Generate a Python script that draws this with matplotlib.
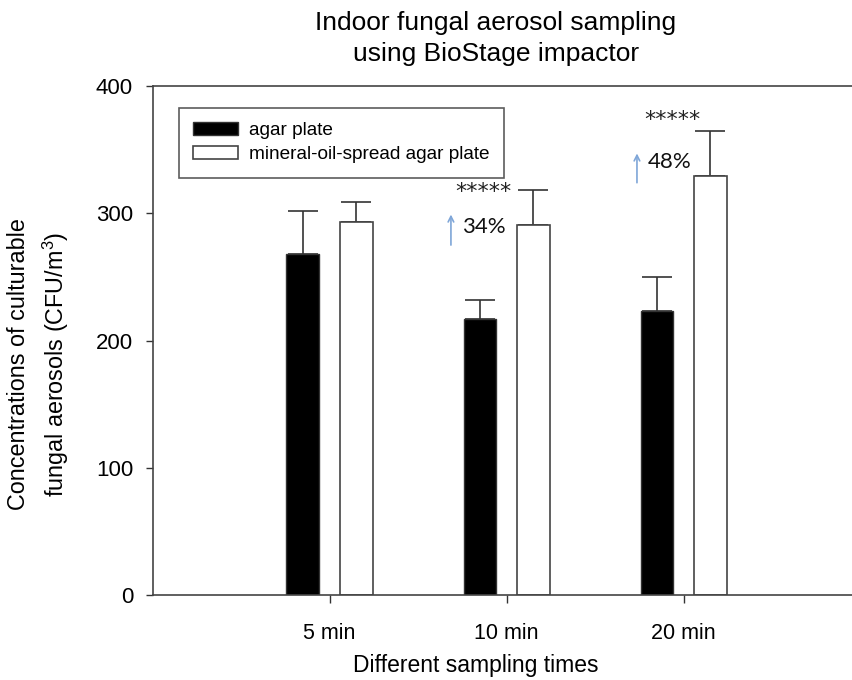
import numpy as np
import matplotlib
matplotlib.use("Agg")
import matplotlib.pyplot as plt

plt.rcParams['font.family'] = ['Liberation Sans', 'DejaVu Sans']
plt.rcParams['mathtext.fontset'] = 'custom'
plt.rcParams['mathtext.rm'] = 'Liberation Sans'

# data
times = ["5 min", "10 min", "20 min"]
agar = [268, 217, 223]
agar_err = [34, 15, 27]
oil = [293, 291, 329]
oil_err = [16, 27, 36]

# significance marks and % increase (x in category units, y in data units)
sig_label = ["*****", "*****"]
sig_x = [1.867, 2.935]
sig_y = [317, 373]
inc_label = ["34%", "48%"]
inc_x = [1.749, 2.799]
inc_y = [289, 340]
arrow_x = [1.686, 2.737]
arrow_y0 = [275, 324]
arrow_y1 = [299, 347]

fig = plt.figure(figsize=(8.52, 6.8), dpi=100)
ax = fig.add_axes([0.179, 0.125, 0.831, 0.7485])

x = np.arange(1, len(times) + 1)
w = 0.186
off = 0.15

ax.bar(x - off, agar, w, color="black", edgecolor="#333333", linewidth=1,
       label="agar plate", zorder=2)
ax.bar(x + off, oil, w, color="white", edgecolor="#444444", linewidth=1.2,
       label="mineral-oil-spread agar plate", zorder=2)
ax.errorbar(x - off, agar, yerr=[np.zeros(3), agar_err], fmt="none",
            ecolor="#333333", elinewidth=1.2, capsize=11, capthick=1.2, zorder=1)
ax.errorbar(x + off, oil, yerr=[np.zeros(3), oil_err], fmt="none",
            ecolor="#333333", elinewidth=1.2, capsize=11, capthick=1.2, zorder=1)

for i in range(len(sig_label)):
    ax.text(sig_x[i], sig_y[i], sig_label[i], ha="center", va="center",
            fontsize=16, family="DejaVu Sans", color="#222222")
    ax.annotate("", xy=(arrow_x[i], arrow_y1[i]), xytext=(arrow_x[i], arrow_y0[i]),
                arrowprops=dict(arrowstyle="->", color="#7fa6d8", lw=1.2,
                                shrinkA=0, shrinkB=0))
    ax.text(inc_x[i], inc_y[i], inc_label[i], ha="left", va="center",
            fontsize=16, family="Lato", color="#111111")

ax.set_xlim(0, 4)
ax.set_ylim(0, 400)
ax.set_xticks(x)
ax.set_xticklabels(times, fontsize=15.5)
ax.set_yticks([0, 100, 200, 300, 400])
ax.tick_params(axis="y", labelsize=16, length=5, width=1, direction="out",
               pad=9, color="#333333")
ax.tick_params(axis="x", length=6, width=1, direction="out", pad=14, color="#333333")
ax.spines["right"].set_visible(False)
for s in ["top", "bottom", "left"]:
    ax.spines[s].set_color("#444444")
    ax.spines[s].set_linewidth(1.2)

ax.set_xlabel("Different sampling times", fontsize=16.5, labelpad=9)
ax.xaxis.set_label_coords(0.457, -0.115)
fig.text(39 / 852, 1 - 364 / 680,
         "Concentrations of culturable\nfungal aerosols (CFU/m$^3$)",
         rotation=90, ha="center", va="center", fontsize=16.8, linespacing=1.5)
fig.text(496 / 852, 1 - 11 / 680, "Indoor fungal aerosol sampling\nusing BioStage impactor",
         ha="center", va="top", fontsize=19, linespacing=1.38)

leg = ax.legend(loc="upper left", bbox_to_anchor=(0.0374, 0.957), fontsize=13.7,
                fancybox=False, edgecolor="#333333", handlelength=2.35,
                handleheight=0.7, handletextpad=0.6, labelspacing=0.35,
                borderpad=0.75, borderaxespad=0)
leg.get_frame().set_linewidth(1.2)

fig.savefig("out.png", dpi=100)
